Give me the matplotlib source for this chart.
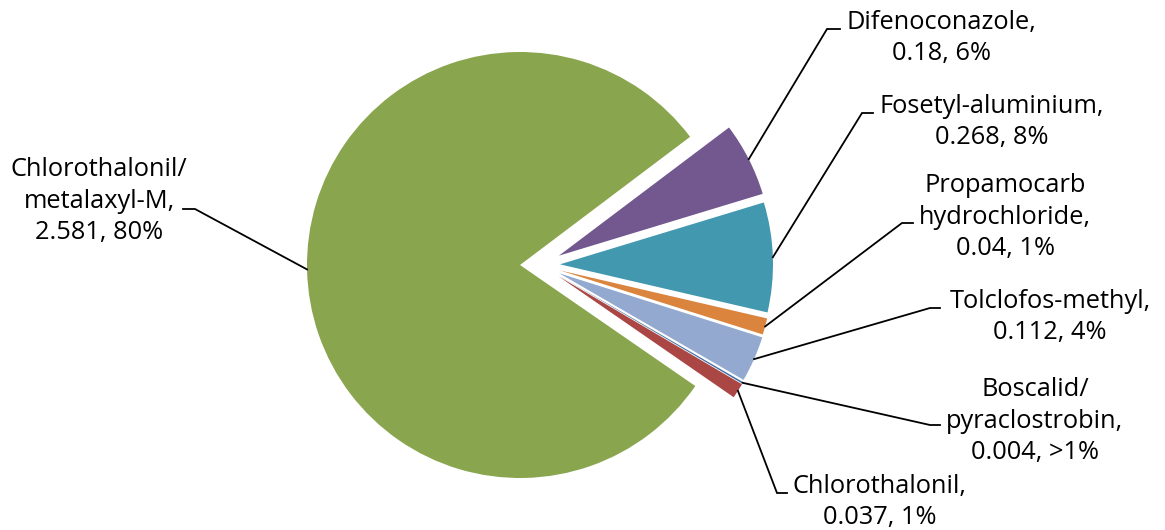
import matplotlib
matplotlib.use("Agg")
import matplotlib.pyplot as plt
import numpy as np

# ---- data (pie order, clockwise from the top of the small slices) ----
names = ["Difenoconazole", "Fosetyl-aluminium", "Propamocarb\nhydrochloride",
         "Tolclofos-methyl", "Boscalid/\npyraclostrobin", "Chlorothalonil",
         "Chlorothalonil/\nmetalaxyl-M"]
values = [0.18, 0.268, 0.04, 0.112, 0.004, 0.037, 2.581]
pct_labels = ["6%", "8%", "1%", "4%", ">1%", "1%", "80%"]

# ---- style ----
colors = ["#72588F", "#4198AF", "#DB843D", "#93A9CF", "#4572A7", "#AA4643", "#89A54E"]
W, H = 1165, 530
FONT = "Open Sans"
FS = 18.3

fig = plt.figure(figsize=(W / 100, H / 100), dpi=100)
ax = fig.add_axes([0, 0, 1, 1])

cx, cy, R = 520, H - 265, 213
wedges, _ = ax.pie(values, colors=colors, startangle=37,
                   counterclock=False, radius=R, center=(cx, cy),
                   wedgeprops=dict(linewidth=0))
ax.set_xlim(0, W)
ax.set_ylim(0, H)
ax.set_aspect("equal")
ax.axis("off")

# pull the small slices out (all but the last, big one)
pull = 40
for w in wedges[:-1]:
    mid = np.deg2rad((w.theta1 + w.theta2) / 2)
    w.set_center((cx + pull * np.cos(mid / 2), cy + pull * np.sin(mid / 2)))

# label layout in pixel coords (y from top): text centre, elbow, elbow end
text_pos = [(941, 38), (992, 122), (1005, 217), (1050, 317), (1035, 421), (880, 502), (99, 201)]
elbows = [((827, 29), (840, 29)), ((862, 113), (873, 113)), ((902, 223), (913, 223)),
          ((930, 308), (940, 308)), ((930, 425), (940, 425)), ((777, 493), (787, 493)),
          ((195, 209), (183, 209))]

for w, name, v, p, tp, (e1, e2) in zip(wedges, names, values, pct_labels, text_pos, elbows):
    ang = np.deg2rad((w.theta1 + w.theta2) / 2)
    ax_, ay_ = w.center[0] + w.r * np.cos(ang), w.center[1] + w.r * np.sin(ang)
    ax.plot([ax_, e1[0], e2[0]], [ay_, H - e1[1], H - e2[1]], color="black", lw=1.3,
            solid_joinstyle="miter")
    ax.text(tp[0], H - tp[1], f"{name},\n{v:g}, {p}", ha="center", va="center",
            fontsize=FS, family=FONT, linespacing=1.36, color="black")

fig.savefig("out.png", dpi=100)
